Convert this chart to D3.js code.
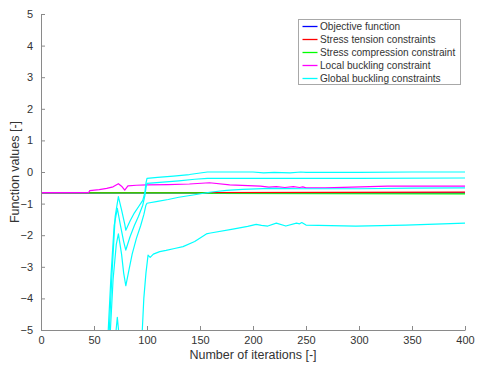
<!doctype html>
<html lang="en">
<head>
  <meta charset="utf-8">
  <title>Function values vs iterations</title>
  <script src="https://d3js.org/d3.v7.min.js"></script>
  <style>
    body { margin: 0; background: #fff; }
    text { font-family: "Liberation Sans", Arial, sans-serif; fill: #333; }
  </style>
</head>
<body>
  <div id="chart"></div>
  <script>
    // Data ----------------------------------------------------------------------
    const xTicks = [0, 50, 100, 150, 200, 250, 300, 350, 400];
    const yTicks = [-5, -4, -3, -2, -1, 0, 1, 2, 3, 4, 5];

    const objective = [[0, -0.66], [400, -0.66]];
    const stressTension = [[0, -0.65], [160, -0.65], [400, -0.64]];
    const stressCompression = [[0, -0.65], [50, -0.66], [157, -0.66], [162, -0.68], [400, -0.69]];
    const localBuckling = [
      [0, -0.65], [45, -0.65], [46, -0.59], [55, -0.56], [62, -0.52], [68, -0.47], [73, -0.37],
      [76, -0.45], [79, -0.57], [82, -0.44], [90, -0.42], [100, -0.41], [120, -0.4], [140, -0.38],
      [159, -0.34], [178, -0.41], [207, -0.45], [215, -0.48], [222, -0.46], [230, -0.49],
      [238, -0.46], [244, -0.49], [247, -0.47], [250, -0.5], [268, -0.5], [327, -0.45], [400, -0.45]
    ];
    const globalBuckling1 = [
      [64, -5.3], [67, -3.2], [70, -1.4], [73, -0.78], [76, -1.2], [79, -1.65], [80, -1.84],
      [84, -1.55], [88, -1.3], [92, -1.1], [96, -0.9], [98, -0.65], [99, -0.35], [100, -0.2],
      [110, -0.17], [125, -0.13], [140, -0.08], [157, 0.0], [200, 0.0], [210, -0.03], [220, -0.01],
      [235, -0.03], [245, 0.0], [250, -0.01], [300, -0.01], [350, 0.0], [400, 0.0]
    ];
    const globalBuckling2 = [
      [63, -5.3], [66, -3.3], [69, -1.7], [72, -1.15], [75, -1.7], [78, -2.2], [80, -2.47],
      [84, -2.05], [88, -1.7], [92, -1.4], [96, -1.05], [98, -0.75], [99, -0.5], [100, -0.36],
      [115, -0.32], [130, -0.28], [145, -0.23], [157, -0.2], [200, -0.2], [300, -0.2], [400, -0.19]
    ];
    const globalBuckling3 = [
      [65, -5.3], [68, -3.4], [71, -2.3], [73, -1.96], [76, -2.6], [78, -3.2], [80, -3.6],
      [83, -3.1], [86, -2.6], [90, -2.1], [94, -1.7], [97, -1.35], [99, -1.05], [100, -0.99],
      [110, -0.93], [120, -0.87], [130, -0.8], [145, -0.72], [159, -0.64], [175, -0.58],
      [190, -0.55], [216, -0.52], [250, -0.53], [300, -0.53], [350, -0.51], [400, -0.5]
    ];
    const globalBuckling4 = [
      [60, -6], [70, -5.3], [72, -4.6], [74, -5.3], [90, -6], [95, -5.4], [97, -4.0], [99, -3.2],
      [101, -2.63], [103, -2.7], [106, -2.6], [112, -2.52], [118, -2.48], [126, -2.42],
      [134, -2.36], [145, -2.2], [156, -1.96], [160, -1.93], [181, -1.81], [195, -1.72],
      [203, -1.66], [208, -1.69], [214, -1.71], [222, -1.62], [231, -1.71], [241, -1.62],
      [244, -1.64], [246, -1.6], [250, -1.68], [297, -1.71], [344, -1.68], [400, -1.62]
    ];

    const series = [
      { name: "Objective function", color: "#0000ff", values: [objective] },
      { name: "Stress tension constraints", color: "#ff0000", values: [stressTension] },
      { name: "Stress compression constraint", color: "#00ff00", values: [stressCompression] },
      { name: "Local buckling constraint", color: "#ff00ff", values: [localBuckling] },
      { name: "Global buckling constraints", color: "#00ffff",
        values: [globalBuckling4, globalBuckling3, globalBuckling2, globalBuckling1] }
    ];

    // Layout --------------------------------------------------------------------
    const width = 479;
    const height = 367;
    const margin = { top: 14, right: 14, bottom: 37, left: 41 };

    const svg = d3.select("#chart")
      .append("svg")
      .attr("width", width)
      .attr("height", height);

    const x = d3.scaleLinear().domain([0, 400]).range([margin.left, width - margin.right]);
    const y = d3.scaleLinear().domain([-5, 5]).range([height - margin.bottom, margin.top]);

    svg.append("defs").append("clipPath")
      .attr("id", "plot-clip")
      .append("rect")
      .attr("x", margin.left)
      .attr("y", margin.top)
      .attr("width", x(400) - x(0))
      .attr("height", y(-5) - y(5));

    // Lines ---------------------------------------------------------------------
    const line = d3.line().x(d => x(d[0])).y(d => y(d[1]));
    const plot = svg.append("g").attr("clip-path", "url(#plot-clip)");

    series.forEach(s => {
      s.values.forEach(v => {
        plot.append("path")
          .datum(v)
          .attr("d", line)
          .attr("fill", "none")
          .attr("stroke", s.color)
          .attr("stroke-width", 1.2)
          .attr("stroke-linejoin", "round");
      });
    });

    // Axes ----------------------------------------------------------------------
    const xAxis = svg.append("g")
      .attr("transform", `translate(0,${y(-5)})`)
      .call(d3.axisBottom(x).tickValues(xTicks).tickSizeInner(-4).tickSizeOuter(0).tickPadding(8));

    const yAxis = svg.append("g")
      .attr("transform", `translate(${x(0)},0)`)
      .call(d3.axisLeft(y).tickValues(yTicks).tickSizeInner(-4).tickSizeOuter(0).tickPadding(8)
        .tickFormat(d3.format("d")));

    [xAxis, yAxis].forEach(a => {
      a.select(".domain").attr("stroke", "#8a8a8a");
      a.selectAll(".tick line").attr("stroke", "#8a8a8a");
      a.selectAll(".tick text")
        .style("font-size", "11px")
        .style("font-family", "'Liberation Sans', Arial, sans-serif")
        .attr("fill", "#333");
    });
    xAxis.selectAll(".tick text").attr("dy", "0.55em");

    svg.append("text")
      .attr("x", (x(0) + x(400)) / 2)
      .attr("y", height - 8)
      .attr("text-anchor", "middle")
      .style("font-size", "12.5px")
      .text("Number of iterations [-]");

    svg.append("text")
      .attr("transform", `translate(19,${(y(5) + y(-5)) / 2}) rotate(-90)`)
      .attr("text-anchor", "middle")
      .style("font-size", "12.5px")
      .text("Function values [-]");

    // Legend --------------------------------------------------------------------
    const legend = svg.append("g").attr("transform", "translate(298.5,19.5)");
    legend.append("rect")
      .attr("width", 162)
      .attr("height", 65)
      .attr("fill", "#fff")
      .attr("stroke", "#a8a8a8")
      .attr("stroke-width", 1);

    series.forEach((s, i) => {
      const row = legend.append("g").attr("transform", `translate(0,${7 + i * 13})`);
      row.append("line")
        .attr("x1", 4).attr("x2", 19)
        .attr("stroke", s.color)
        .attr("stroke-width", 1.3);
      row.append("text")
        .attr("x", 21.5)
        .attr("dy", "0.35em")
        .style("font-size", "10.1px")
        .text(s.name);
    });
  </script>
</body>
</html>
